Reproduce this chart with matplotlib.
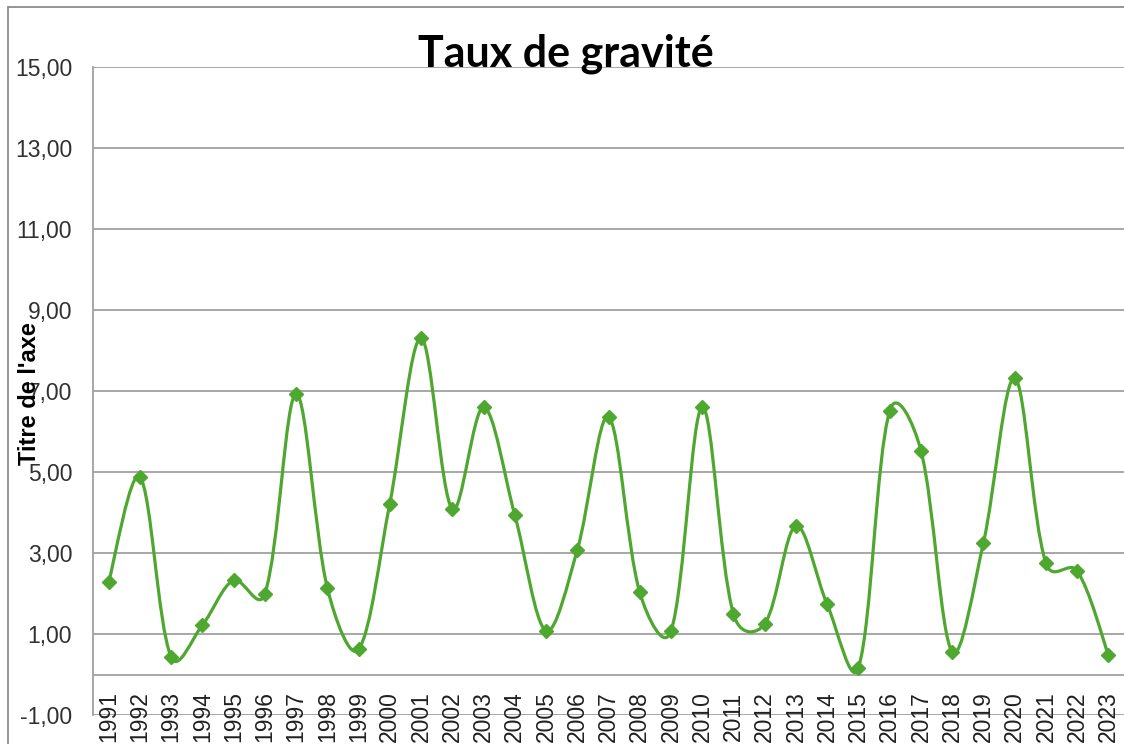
import numpy as np
import matplotlib
matplotlib.use("Agg")
import matplotlib.pyplot as plt
import matplotlib.transforms as mtrans
from matplotlib.path import Path
from matplotlib.patches import PathPatch, Rectangle

years = [str(y) for y in range(1991, 2024)]
taux = [2.28, 4.88, 0.43, 1.22, 2.33, 1.99, 6.93, 2.14, 0.62, 4.22,
        8.31, 4.08, 6.60, 3.94, 1.08, 3.07, 6.36, 2.03, 1.07, 6.60,
        1.49, 1.25, 3.67, 1.73, 0.17, 6.51, 5.53, 0.56, 3.25, 7.32,
        2.75, 2.56, 0.48]
y_ticks = [-1, 1, 3, 5, 7, 9, 11, 13, 15]

green = "#4ea72e"
grid_col = "#a0a0a0"

W, H = 1124, 744
fig = plt.figure(figsize=(W / 100, H / 100), dpi=100)
ax = fig.add_axes([93 / W, 1 - 715 / H, 1031 / W, 648 / H])

# smooth line, bezier built in screen-like units (x: 1 per year, y scaled)
asp = 40.5 / 31.24
x = np.arange(len(taux), dtype=float)
y = np.array(taux)
P = np.column_stack([x, y * asp])
n = len(P)
arm_in = np.zeros_like(P)
arm_out = np.zeros_like(P)
for i in range(n):
    prv = P[max(i - 1, 0)]
    nxt = P[min(i + 1, n - 1)]
    T = nxt - prv
    dp = np.hypot(*(P[i] - prv))
    dn = np.hypot(*(nxt - P[i]))
    if dp == 0 or dn == 0:
        arm_out[i] = T / 6
        arm_in[i] = T / 6
    else:
        # half plain catmull-rom, half chord-weighted
        arm_out[i] = 0.5 * T / 6 + 0.5 * T * dn / (dp + dn) / 3
        arm_in[i] = 0.5 * T / 6 + 0.5 * T * dp / (dp + dn) / 3
verts = [P[0]]
codes = [Path.MOVETO]
for i in range(1, n):
    verts += [P[i - 1] + arm_out[i - 1], P[i] - arm_in[i], P[i]]
    codes += [Path.CURVE4] * 3
verts = np.array(verts)
verts[:, 1] /= asp
ax.add_patch(PathPatch(Path(verts, codes), fill=False, edgecolor=green,
                       lw=2.3, capstyle="round", joinstyle="round", zorder=3))
ax.plot(x, y, "D", ms=7.5, color=green, zorder=4)

ax.set_xlim(-0.5, len(taux) - 0.5)
ax.set_ylim(-1, 15)
ax.set_yticks(y_ticks)
ax.set_yticklabels([f"{v:.2f}".replace(".", ",") for v in y_ticks],
                   fontsize=16.5, family="Liberation Sans", color="#303030")
ax.tick_params(axis="y", length=0, pad=15)
ax.set_xticks([])
for v in y_ticks:
    ax.axhline(v, color=grid_col, lw=1.3, zorder=1)
ax.axhline(0, color=grid_col, lw=1.3, zorder=1)
for s in ["top", "right", "bottom"]:
    ax.spines[s].set_visible(False)
ax.spines["left"].set_color(grid_col)
ax.spines["left"].set_linewidth(1.3)

# category labels sit under the axis line at 0
off = mtrans.ScaledTranslation(0, -17 / 100, fig.dpi_scale_trans)
for i, lab in enumerate(years):
    ax.text(i, 0, lab, rotation=90, ha="center", va="top", fontsize=16.5,
            family="Liberation Sans", color="#202020",
            transform=ax.transData + off, clip_on=False)

fig.text(566 / W, 1 - 67 / H, "Taux de gravité", ha="center", va="baseline",
         fontsize=31, fontweight="bold", family="Lato")
fig.text(30 / W, 1 - 394 / H, "Titre de l'axe", rotation=90, ha="center",
         va="center", fontsize=17, fontweight="bold", family="Liberation Sans")

# chart area border (cropped on right and bottom)
fig.add_artist(Rectangle((8 / W, -0.1), 1.2, 1 - 7 / H + 0.1,
                         transform=fig.transFigure, fill=False,
                         edgecolor="#8c8c8c", lw=1.3))

fig.savefig("out.png", dpi=100)
